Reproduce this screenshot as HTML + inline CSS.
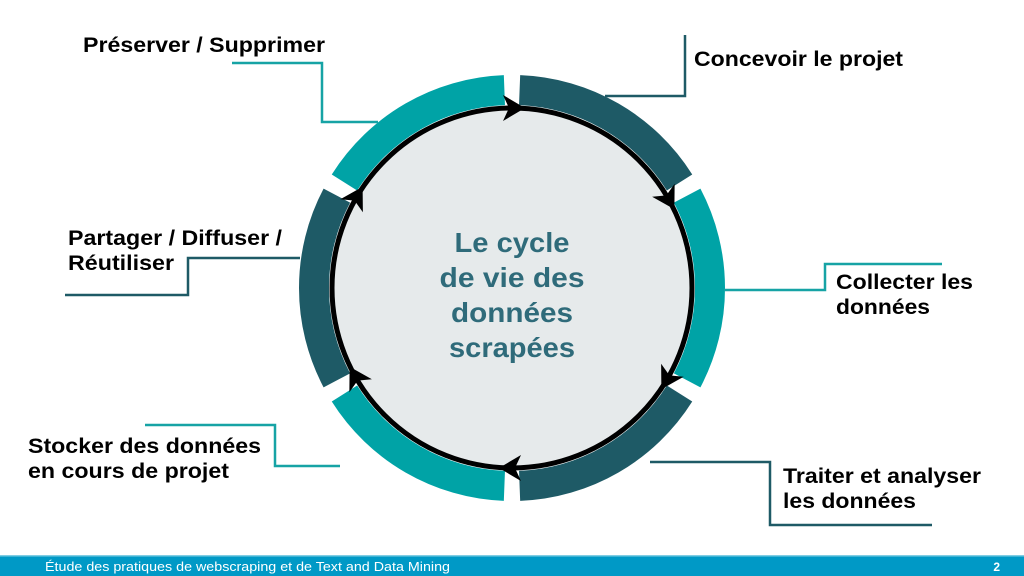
<!DOCTYPE html>
<html><head><meta charset="utf-8"><style>
body{margin:0;width:1024px;height:576px;overflow:hidden;background:#fff;font-family:"Liberation Sans",sans-serif}
</style></head><body>
<svg width="1024" height="576" xmlns="http://www.w3.org/2000/svg" style="position:absolute;left:0;top:0">
<defs>
<g id="arr"><polygon points="-9,-13 13,0 -9,13 -3,0" fill="#000"/></g>
</defs>
<circle cx="512" cy="288" r="182" fill="#e6eaeb"/>
<g id="segs"></g>
<circle cx="512" cy="288" r="180" fill="none" stroke="#000" stroke-width="5"/>
<g id="arrows"></g>
<g fill="none" stroke-width="2.5">
<polyline points="232,63 322,63 322,122 378,122" stroke="#16a3a5"/>
<polyline points="605,96 685,96 685,35" stroke="#1e5a66"/>
<polyline points="724,290 825,290 825,264 942,264" stroke="#16a3a5"/>
<polyline points="650,462 770,462 770,525 932,525" stroke="#1e5a66"/>
<polyline points="145,425 275,425 275,466 340,466" stroke="#16a3a5"/>
<polyline points="65,295 188,295 188,258 300,258" stroke="#1e5a66"/>
</g>
<g font-family="Liberation Sans, sans-serif" font-weight="bold" font-size="21" fill="#000" lengthAdjust="spacingAndGlyphs">
<text x="83" y="52" textLength="242" lengthAdjust="spacingAndGlyphs">Préserver / Supprimer</text>
<text x="694" y="66" textLength="209" lengthAdjust="spacingAndGlyphs">Concevoir le projet</text>
<text x="836" y="289" textLength="137" lengthAdjust="spacingAndGlyphs">Collecter les</text>
<text x="836" y="314" textLength="94" lengthAdjust="spacingAndGlyphs">données</text>
<text x="783" y="483" textLength="198" lengthAdjust="spacingAndGlyphs">Traiter et analyser</text>
<text x="783" y="508" textLength="133" lengthAdjust="spacingAndGlyphs">les données</text>
<text x="28" y="453" textLength="233" lengthAdjust="spacingAndGlyphs">Stocker des données</text>
<text x="28" y="478" textLength="201" lengthAdjust="spacingAndGlyphs">en cours de projet</text>
<text x="68" y="245" textLength="214" lengthAdjust="spacingAndGlyphs">Partager / Diffuser /</text>
<text x="68" y="270" textLength="106" lengthAdjust="spacingAndGlyphs">Réutiliser</text>
</g>
<g font-family="Liberation Sans, sans-serif" font-weight="bold" font-size="28" fill="#2f6b7a" text-anchor="middle">
<text x="512" y="252" textLength="115" lengthAdjust="spacingAndGlyphs">Le cycle</text>
<text x="512" y="287" textLength="145" lengthAdjust="spacingAndGlyphs">de vie des</text>
<text x="512" y="322" textLength="122" lengthAdjust="spacingAndGlyphs">données</text>
<text x="512" y="357" textLength="126" lengthAdjust="spacingAndGlyphs">scrapées</text>
</g>
<rect x="0" y="556" width="1024" height="20" fill="#0099c6"/>
<rect x="0" y="555" width="1024" height="1.5" fill="#7fcde3"/>
<text x="45" y="571" font-size="12.5" fill="#fff" font-family="Liberation Sans, sans-serif" textLength="405" lengthAdjust="spacingAndGlyphs">Étude des pratiques de webscraping et de Text and Data Mining</text>
<text x="1000" y="571" font-size="12" font-weight="bold" fill="#fff" font-family="Liberation Sans, sans-serif" text-anchor="end">2</text>
</svg>
<script>
var cx=512,cy=288,R=213,r=183,ns="http://www.w3.org/2000/svg";
var cols=["#1e5a66","#00a3a6","#1e5a66","#00a3a6","#1e5a66","#00a3a6"];
var g=document.getElementById("segs"),a=document.getElementById("arrows");
function p(rad,ang){return [cx+rad*Math.cos(ang),cy+rad*Math.sin(ang)];}
for(var i=0;i<6;i++){
 var s=(-90+60*i+2.2)*Math.PI/180,e=(-90+60*(i+1)-2.2)*Math.PI/180;
 var A=p(R,s),B=p(R,e),C=p(r,e),D=p(r,s);
 var path=document.createElementNS(ns,"path");
 path.setAttribute("d","M"+A+" A"+R+","+R+" 0 0 1 "+B+" L"+C+" A"+r+","+r+" 0 0 0 "+D+"Z");
 path.setAttribute("fill",cols[i]);g.appendChild(path);
 var ang=-90+60*i,q=p(180,ang*Math.PI/180);
 var u=document.createElementNS(ns,"use");u.setAttribute("href","#arr");
 u.setAttribute("transform","translate("+q[0]+","+q[1]+") rotate("+(ang+90)+")");a.appendChild(u);
}
</script>
</body></html>
